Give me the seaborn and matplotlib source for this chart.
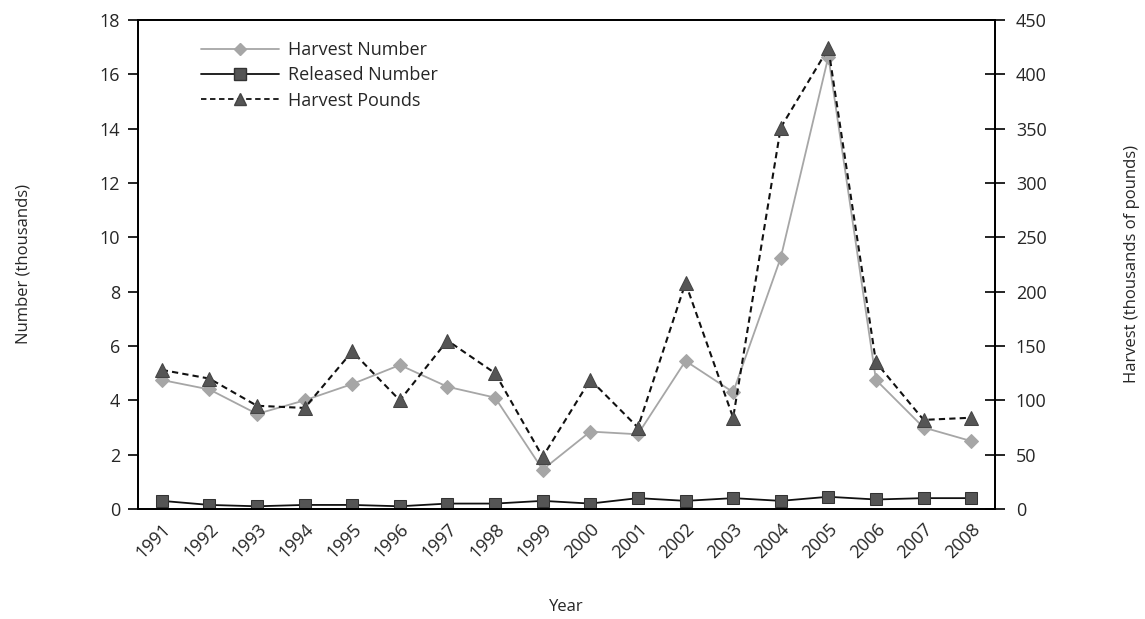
import matplotlib.pyplot as plt
import seaborn as sns
import pandas as pd
from matplotlib.lines import Line2D

sns.set_style("white")
plt.rcParams['font.family'] = ['Open Sans', 'DejaVu Sans']

years = [str(y) for y in range(1991, 2009)]
harvest_number = [4.75, 4.4, 3.5, 4.0, 4.6, 5.3, 4.5, 4.1, 1.45, 2.85,
                  2.75, 5.45, 4.3, 9.25, 16.65, 4.75, 3.0, 2.5]
released_number = [0.3, 0.15, 0.1, 0.15, 0.15, 0.1, 0.2, 0.2, 0.3, 0.2,
                   0.4, 0.3, 0.4, 0.3, 0.45, 0.35, 0.4, 0.4]
harvest_pounds = [128, 120, 95, 93, 145, 100, 155, 125, 48, 119,
                  75, 208, 84, 351, 424, 135, 82, 84]

df = pd.DataFrame({
    "Year": years,
    "Harvest Number": harvest_number,
    "Released Number": released_number,
    "Harvest Pounds": harvest_pounds,
})

fig = plt.figure(figsize=(11.45, 6.19), dpi=100)
ax = fig.add_axes([0.1205, 0.1777, 0.7485, 0.79])
ax2 = ax.twinx()

sns.lineplot(data=df, x="Year", y="Harvest Number", ax=ax, color="#a6a6a6",
             marker="D", markersize=7, markeredgecolor="#a6a6a6", linewidth=1.3)
sns.lineplot(data=df, x="Year", y="Released Number", ax=ax, color="#111111",
             marker="s", markersize=9, markerfacecolor="#555555",
             markeredgecolor="#333333", linewidth=1.3)
sns.lineplot(data=df, x="Year", y="Harvest Pounds", ax=ax2, color="#111111",
             linestyle=(0, (3, 2)), marker="^", markersize=10,
             markerfacecolor="#555555", markeredgecolor="#444444", linewidth=1.5)

ax.set_ylim(0, 18)
ax.set_yticks(range(0, 19, 2))
ax2.set_ylim(0, 450)
ax2.set_yticks(range(0, 451, 50))
ax.set_xlim(-0.5, len(years) - 0.5)

ax.set_xticks(range(len(years)))
ax.set_xticklabels(years, rotation=45, fontsize=13, ha="right", rotation_mode="anchor")
ax.set_xticks([i - 0.5 for i in range(len(years) + 1)], minor=True)
ax.tick_params(axis="x", which="major", length=0, pad=8)
ax.tick_params(axis="x", which="minor", length=5, width=1.2, direction="out", color="black")
ax.tick_params(axis="y", length=7, width=1.2, direction="out", labelsize=13, color="black", pad=6)
ax2.tick_params(axis="y", length=14, width=1.2, direction="inout", labelsize=13, color="black", pad=8)

for a in (ax, ax2):
    for s in a.spines.values():
        s.set_color("black")
        s.set_linewidth(1.3)
    a.grid(False)

ax.set_xlabel("Year", fontsize=12, labelpad=27)
ax.set_ylabel("Number (thousands)", fontsize=12, labelpad=49)
ax2.set_ylabel("Harvest (thousands of pounds)", fontsize=12, labelpad=56)

handles = [
    Line2D([], [], color="#a6a6a6", marker="D", markersize=6, markeredgecolor="#a6a6a6", linewidth=1.3),
    Line2D([], [], color="#111111", marker="s", markersize=8, markerfacecolor="#555555",
           markeredgecolor="#333333", linewidth=1.3),
    Line2D([], [], color="#111111", linestyle=(0, (3, 2)), marker="^", markersize=8,
           markerfacecolor="#555555", markeredgecolor="#444444", linewidth=1.3),
]
labels = ["Harvest Number", "Released Number", "Harvest Pounds"]
if ax.get_legend():
    ax.get_legend().remove()
if ax2.get_legend():
    ax2.get_legend().remove()
ax2.legend(handles, labels, loc="upper left", bbox_to_anchor=(0.055, 0.99),
           frameon=False, fontsize=13, handlelength=4.3, labelspacing=0.4,
           handletextpad=0.5)

fig.savefig("out.png", dpi=100)
